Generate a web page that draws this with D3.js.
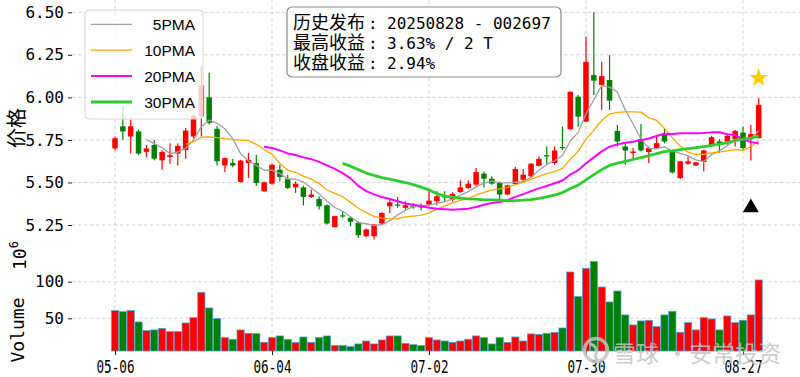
<!DOCTYPE html>
<meta charset="utf-8">
<style>
body { margin: 0; background: #fff; }
svg { display: block; font-family: "DejaVu Sans Mono", monospace; }
</style>
<body>
<script src="https://d3js.org/d3.v7.min.js"></script>
<script>

// date axis: trading-day index of each labelled tick
var tickIdx = [0, 20, 40, 60, 80],
    tickLabels = ["05-06", "06-04", "07-02", "07-30", "08-27"];

// daily candles, 2025-05-06 .. 2025-08-29
var open = [5.70,5.83,5.77,5.80,5.68,5.72,5.63,5.65,5.67,5.69,
            5.77,5.89,6.00,5.815,5.60,5.614,5.503,5.614,5.614,5.448,
            5.493,5.575,5.522,5.471,5.471,5.415,5.403,5.366,5.237,5.307,
            5.292,5.263,5.184,5.184,5.259,5.360,5.370,5.351,5.364,5.360,
            5.370,5.389,5.419,5.399,5.444,5.468,5.487,5.552,5.522,5.497,
            5.429,5.491,5.516,5.536,5.598,5.66,5.614,5.708,5.813,6.004,
            5.858,6.131,6.073,6.102,5.803,5.711,5.673,5.755,5.679,5.702,
            5.780,5.682,5.526,5.610,5.600,5.620,5.717,5.741,5.741,5.755,
            5.793,5.755,5.761];
var high = [5.77,5.95,5.87,5.81,5.72,5.75,5.69,5.73,5.73,5.82,
            5.90,6.18,6.145,5.83,5.646,5.638,5.633,5.673,5.663,5.505,
            5.61,5.604,5.546,5.506,5.481,5.458,5.419,5.37,5.305,5.331,
            5.302,5.272,5.23,5.256,5.325,5.399,5.415,5.389,5.376,5.376,
            5.458,5.448,5.448,5.442,5.512,5.511,5.585,5.565,5.536,5.506,
            5.487,5.591,5.579,5.614,5.653,5.711,5.711,5.828,6.035,6.014,
            6.355,6.50,6.209,6.248,5.838,5.731,5.702,5.844,5.711,5.780,
            5.819,5.692,5.628,5.653,5.62,5.692,5.774,5.755,5.780,5.809,
            5.828,5.838,5.995];
var low = [5.69,5.75,5.67,5.66,5.65,5.63,5.575,5.61,5.60,5.64,
           5.76,5.77,5.84,5.60,5.56,5.59,5.50,5.526,5.481,5.445,
           5.487,5.506,5.462,5.439,5.364,5.409,5.341,5.253,5.235,5.292,
           5.243,5.175,5.178,5.165,5.255,5.321,5.351,5.341,5.345,5.337,
           5.360,5.366,5.389,5.389,5.439,5.462,5.481,5.471,5.487,5.403,
           5.425,5.487,5.501,5.526,5.595,5.604,5.604,5.692,5.81,5.828,
           5.855,6.014,5.926,5.926,5.711,5.604,5.638,5.682,5.614,5.696,
           5.731,5.552,5.52,5.604,5.597,5.565,5.711,5.673,5.721,5.711,
           5.692,5.629,5.758];
var close = [5.76,5.80,5.83,5.67,5.70,5.64,5.68,5.66,5.715,5.805,
             5.89,6.07,5.85,5.625,5.643,5.60,5.628,5.633,5.497,5.501,
             5.604,5.532,5.468,5.493,5.415,5.429,5.360,5.259,5.302,5.302,
             5.269,5.190,5.224,5.253,5.321,5.383,5.364,5.366,5.354,5.354,
             5.393,5.419,5.413,5.433,5.471,5.493,5.561,5.522,5.493,5.429,
             5.483,5.579,5.546,5.610,5.639,5.655,5.688,5.702,6.033,5.887,
             6.209,6.098,6.125,5.981,5.741,5.688,5.682,5.688,5.702,5.731,
             5.741,5.559,5.624,5.624,5.618,5.688,5.766,5.731,5.774,5.803,
             5.702,5.784,5.956];
// volume, millions of shares
var volume = [60.5,59.1,60.5,45.0,33.2,34.1,36.3,31.8,31.8,43.6,
              50.9,85.5,64.1,49.5,23.6,21.3,34.1,29.5,29.1,17.2,
              23.6,25.9,21.3,17.2,24.5,17.2,23.6,25.9,12.7,12.7,
              11.3,15.0,19.0,15.0,20.4,25.9,25.9,15.8,14.0,12.7,
              23.6,20.4,19.0,17.2,19.0,21.3,25.9,23.6,15.0,23.6,
              17.2,24.5,19.0,28.7,28.1,29.5,30.9,36.8,113.3,79.6,
              118.3,127.4,92.8,72.3,87.3,54.6,40.9,46.4,47.3,38.6,
              54.6,59.6,30.9,44.1,34.1,50.9,49.1,34.1,53.2,44.1,
              47.3,54.6,102.4];

var maNames = ["5PMA", "10PMA", "20PMA", "30PMA"],
    maWindows = [5, 10, 20, 30];

var priceTicks = [5.25, 5.50, 5.75, 6.00, 6.25, 6.50],
    volTicks = [50, 100];

var infoLabels = ["历史发布", "最高收益", "收盘收益"],
    infoValues = ["20250828 - 002697", "3.63% / 2 T", "2.94%"];

// signal markers: [index, price]
var buyMark = [81, 5.352],
    bestMark = [82, 6.114];

// ---------- layout ----------
var width = 800, height = 377;
var left = 72, pTop = 0, pBot = 248, vTop = 256, vBot = 351;

var upColor = "#ff0000", downColor = "#008000";
var maColors = ["#a0a0a0", "#ffa500", "#ff00ff", "#2ecc2e"],
    maWidths = [1.3, 1.3, 2, 2.8];

var x = d3.scaleLinear().domain([0, close.length - 1]).range([115, 115 + 7.85 * (close.length - 1)]);
var yP = d3.scaleLinear().domain([5.25, 6.5]).range([225, 12.3]);
var yV = d3.scaleLinear().domain([50, 100]).range([318.3, 281.7]);

var data = close.map(function(c, i) {
  return {i: i, o: open[i], h: high[i], l: low[i], c: c, v: volume[i]};
});

var svg = d3.select("body").append("svg")
    .attr("width", width)
    .attr("height", height);

svg.append("clipPath").attr("id", "clipP")
  .append("rect").attr("x", left).attr("y", pTop).attr("width", width - left).attr("height", pBot - pTop);

// grid
var grid = svg.append("g")
    .attr("stroke", "#c8c8c8")
    .attr("stroke-width", 0.8)
    .attr("stroke-dasharray", "3.5,2.5");

grid.selectAll(".hp").data(priceTicks).enter().append("line")
    .attr("x1", left).attr("x2", width)
    .attr("y1", function(d) { return yP(d); }).attr("y2", function(d) { return yP(d); });
grid.selectAll(".hv").data(volTicks).enter().append("line")
    .attr("x1", left).attr("x2", width)
    .attr("y1", function(d) { return yV(d); }).attr("y2", function(d) { return yV(d); });
grid.selectAll(".vx").data(tickIdx).enter().append("line")
    .attr("y1", 0).attr("y2", vBot)
    .attr("x1", function(d) { return x(d); }).attr("x2", function(d) { return x(d); });

// candles
var pricePlot = svg.append("g").attr("clip-path", "url(#clipP)");
var col = function(d) { return d.c >= d.o ? upColor : downColor; };

var candle = pricePlot.selectAll(".candle").data(data).enter().append("g");
candle.append("line")
    .attr("x1", function(d) { return x(d.i); }).attr("x2", function(d) { return x(d.i); })
    .attr("y1", function(d) { return yP(d.h); }).attr("y2", function(d) { return yP(d.l); })
    .attr("stroke", col).attr("stroke-width", 1.2);
candle.append("rect")
    .attr("x", function(d) { return x(d.i) - 2.75; })
    .attr("width", 5.5)
    .attr("y", function(d) { return yP(Math.max(d.o, d.c)); })
    .attr("height", function(d) { return Math.max(1.2, Math.abs(yP(d.o) - yP(d.c))); })
    .attr("fill", col);

// moving averages
maWindows.forEach(function(w, k) {
  var ma = close.map(function(c, i) {
    return i < w - 1 ? null : d3.mean(close.slice(i - w + 1, i + 1));
  });
  var line = d3.line()
      .defined(function(d) { return d != null; })
      .x(function(d, i) { return x(i); })
      .y(function(d) { return yP(d); });
  pricePlot.append("path")
      .datum(ma)
      .attr("d", line)
      .attr("fill", "none")
      .attr("stroke", maColors[k])
      .attr("stroke-width", maWidths[k])
      .attr("stroke-linejoin", "round");
});

// volume bars
svg.selectAll(".vol").data(data).enter().append("rect")
    .attr("x", function(d) { return x(d.i) - 3.6; })
    .attr("width", 7.2)
    .attr("y", function(d) { return yV(d.v); })
    .attr("height", function(d) { return vBot - yV(d.v); })
    .attr("fill", col)
    .attr("stroke", "#4aa0e0")
    .attr("stroke-width", 0.7);

// axes
function styleAxis(g) {
  g.select(".domain").remove();
  g.selectAll(".tick line").attr("stroke", "#222");
  g.selectAll("text").attr("fill", "#000").attr("font-family", "DejaVu Sans Mono").attr("font-size", 16);
}
svg.append("g").attr("transform", "translate(" + left + ",0)")
    .call(d3.axisLeft(yP).tickValues(priceTicks).tickFormat(d3.format(".2f")).tickSize(4).tickPadding(4))
    .call(styleAxis);
svg.append("g").attr("transform", "translate(" + left + ",0)")
    .call(d3.axisLeft(yV).tickValues(volTicks).tickFormat(d3.format("d")).tickSize(4).tickPadding(4))
    .call(styleAxis);
var xAxis = svg.append("g").attr("transform", "translate(0," + vBot + ")")
    .call(d3.axisBottom(x).tickValues(tickIdx)
      .tickFormat(function(d, i) { return tickLabels[i]; }).tickSize(4).tickPadding(6))
    .call(styleAxis);
xAxis.selectAll("text").attr("font-size", 17).attr("textLength", 38).attr("lengthAdjust", "spacingAndGlyphs");

// axis titles
svg.append("text")
    .attr("transform", "translate(24,128) rotate(-90)")
    .attr("text-anchor", "middle")
    .attr("font-family", "Noto Sans CJK SC")
    .attr("font-size", 20)
    .text("价格");
svg.append("text")
    .attr("transform", "translate(24,330) rotate(-90)")
    .attr("text-anchor", "middle")
    .attr("font-size", 18)
    .text("Volume");
var off = svg.append("text")
    .attr("transform", "translate(26,270) rotate(-90)")
    .attr("font-size", 18)
    .text("10");
off.append("tspan").attr("dy", -8).attr("font-size", 12).text("6");

// legend
var leg = svg.append("g");
leg.append("rect")
    .attr("x", 85).attr("y", 10).attr("width", 118).attr("height", 109).attr("rx", 4)
    .attr("fill", "#fff").attr("fill-opacity", 0.78)
    .attr("stroke", "#d6d6d6");
maNames.forEach(function(n, k) {
  var yy = 24.3 + k * 25.9;
  leg.append("line").attr("x1", 91).attr("x2", 132).attr("y1", yy).attr("y2", yy)
      .attr("stroke", maColors[k]).attr("stroke-width", maWidths[k]);
  leg.append("text").attr("x", 195).attr("y", yy).attr("dy", "0.36em")
      .attr("text-anchor", "end")
      .attr("font-family", "Liberation Sans").attr("font-size", 15.5)
      .text(n);
});

// info box
var info = svg.append("g");
info.append("rect")
    .attr("x", 287).attr("y", 7).attr("width", 274).attr("height", 70).attr("rx", 5)
    .attr("fill", "#fff").attr("fill-opacity", 0.9)
    .attr("stroke", "#888").attr("stroke-width", 1.2);
infoLabels.forEach(function(lab, k) {
  var t = info.append("text").attr("y", 28.5 + k * 20.4);
  t.append("tspan").attr("x", 293).attr("font-family", "Noto Sans CJK SC").attr("font-size", 18).text(lab);
  t.append("tspan").attr("x", 368).attr("font-family", "DejaVu Sans Mono").attr("font-size", 16)
      .text(":");
  t.append("tspan").attr("x", 387).attr("font-family", "DejaVu Sans Mono").attr("font-size", 16)
      .text(infoValues[k]);
});

// markers
svg.append("path")
    .attr("d", d3.symbol(d3.symbolTriangle, 110)())
    .attr("transform", "translate(" + x(buyMark[0]) + "," + yP(buyMark[1]) + ")")
    .attr("fill", "#000");
svg.append("path")
    .attr("d", d3.symbol(d3.symbolStar, 110)())
    .attr("transform", "translate(" + x(bestMark[0]) + "," + yP(bestMark[1]) + ")")
    .attr("fill", "#ffcc00");

// watermark
var wm = svg.append("g").attr("opacity", 0.85).attr("fill", "#c4c4c4");
wm.append("circle").attr("cx", 596).attr("cy", 350).attr("r", 11.5)
    .attr("fill", "none").attr("stroke", "#c4c4c4").attr("stroke-width", 3.5);
wm.append("path").attr("d", "M590,344 q8,2 6,10 q-2,6 6,8").attr("fill", "none")
    .attr("stroke", "#c4c4c4").attr("stroke-width", 3);
var wt = wm.append("text").attr("y", 362).attr("font-family", "Noto Sans CJK SC").attr("font-size", 23);
wt.append("tspan").attr("x", 613).text("雪球");
wt.append("tspan").attr("x", 666).text("·");
wt.append("tspan").attr("x", 689).text("安常投资");

</script>
</body>
